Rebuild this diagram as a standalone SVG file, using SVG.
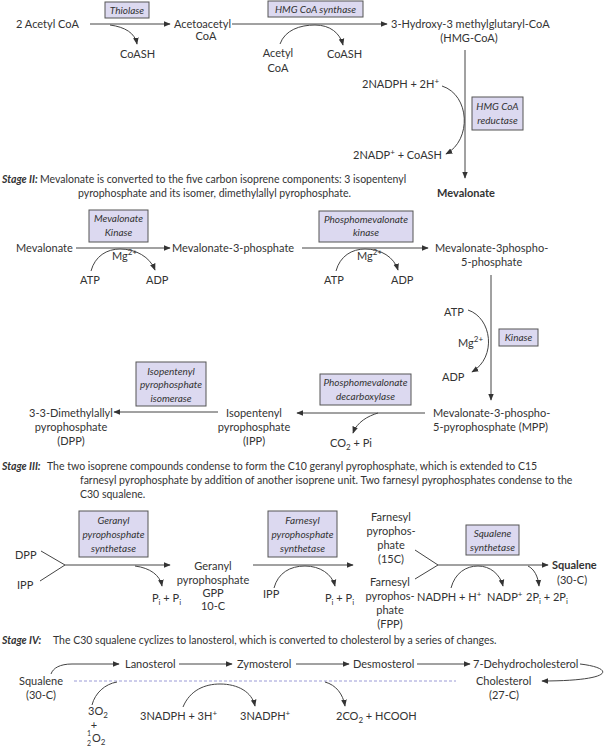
<svg xmlns="http://www.w3.org/2000/svg" width="611" height="750" viewBox="0 0 611 750">
<defs>
<marker id="ah" viewBox="0 0 10 10" refX="9" refY="5" markerWidth="7" markerHeight="7" orient="auto" markerUnits="userSpaceOnUse"><path d="M0,1 L10,5 L0,9 z" fill="#333"/></marker>
</defs>
<style>
text{font-family:Lato,"Liberation Sans",sans-serif;font-size:11px;fill:#333}
.c{text-anchor:middle}
.e{font-style:italic;font-size:10px;text-anchor:middle}
.b{font-weight:bold}
.st{font-weight:bold;font-style:italic;font-size:10.5px}
.p{font-size:10.5px}
.box{fill:#dcd9f0;stroke:#555;stroke-width:1}
.ln{fill:none;stroke:#444;stroke-width:1}
.ar{fill:none;stroke:#444;stroke-width:1;marker-end:url(#ah)}
.sm{font-size:8px}
.xs{font-size:7px}
</style>
<rect width="611" height="750" fill="#fff"/>

<g id="connectors">
<path class="ar" d="M90,24 H170"/>
<path class="ar" d="M110,25 C125,27 135,33 137,44"/>
<path class="ar" d="M232,24 H387"/>
<path class="ar" d="M280,44 C285,30 300,25 315,25 C330,25 340,33 343,45"/>
<path class="ar" d="M465,50 V178"/>
<path class="ar" d="M442,86 C470,95 472,140 446,154"/>

<path class="ar" d="M76,248 H170"/>
<path class="ar" d="M91,271 C95,256 107,249 120,249 C136,249 150,257 155,270"/>
<path class="ar" d="M302,248 H428"/>
<path class="ar" d="M336,271 C340,256 352,249 365,249 C381,249 394,257 398,270"/>
<path class="ar" d="M491,275 V400"/>
<path class="ar" d="M468,310 C492,318 497,357 472,372"/>
<path class="ar" d="M425,413 H297"/>
<path class="ar" d="M378,413 C368,416 357,422 353,433"/>
<path class="ar" d="M218,412 H114"/>

<path class="ln" d="M41,551 L65,565 M40,581 L65,565"/>
<path class="ar" d="M65,565 H170"/>
<path class="ar" d="M135,566 C150,568 160,575 162,586"/>
<path class="ar" d="M253,565 H353"/>
<path class="ar" d="M274,588 C278,573 290,566 305,566 C320,566 332,574 335,586"/>
<path class="ln" d="M415,550 L438,565 M415,579 L438,565"/>
<path class="ar" d="M438,565 H548"/>
<path class="ar" d="M451,588 C455,573 466,566 478,566 C490,566 500,574 503,586"/>
<path class="ar" d="M528,566 C534,569 538,576 539,586"/>

<path class="ar" d="M51,674 C53,668 60,664 72,664 H119"/>
<path class="ar" d="M179,664 H232"/>
<path class="ar" d="M296,664 H349"/>
<path class="ar" d="M417,664 H470"/>
<path class="ar" d="M580,664 C615,668 615,681 542,681"/>
<path d="M74,681 H456" fill="none" stroke="#9b9bd6" stroke-width="1" stroke-dasharray="3,2"/>
<path class="ln" d="M92,705 C95,693 105,684 117,682"/>
<path class="ar" d="M183,707 C190,690 205,684 220,684 C238,684 252,692 255,706"/>
<path class="ar" d="M325,682 C336,685 343,694 345,706"/>
</g>

<!-- Stage I -->
<g id="acetylcoa"><text x="16" y="28">2 Acetyl CoA</text></g>
<g id="thiolase"><rect class="box" x="105" y="2" width="44" height="16"/><text class="e" x="127" y="14">Thiolase</text></g>
<g id="coash1"><text x="120" y="58">CoASH</text></g>
<g id="acetoacetyl"><text x="174" y="28">Acetoacetyl</text><text class="c" x="206" y="40">CoA</text></g>
<g id="hmgsynthase"><rect class="box" x="268" y="1" width="95" height="16"/><text class="e" x="315.5" y="13">HMG CoA synthase</text></g>
<g id="acetylcoa2"><text class="c" x="278" y="57">Acetyl</text><text class="c" x="278" y="72">CoA</text></g>
<g id="coash2"><text x="327" y="58">CoASH</text></g>
<g id="hmgcoa"><text x="391" y="28">3-Hydroxy-3 methylglutaryl-CoA</text><text class="c" x="469" y="42">(HMG-CoA)</text></g>
<g id="nadph1"><text x="362" y="88">2NADPH + 2H<tspan class="sm" dy="-4">+</tspan></text></g>
<g id="nadp1"><text x="353" y="159">2NADP<tspan class="sm" dy="-4">+</tspan><tspan dy="4"> + CoASH</tspan></text></g>
<g id="hmgreductase"><rect class="box" x="472" y="97" width="51" height="33"/><text class="e" x="497.5" y="110">HMG CoA</text><text class="e" x="497.5" y="124">reductase</text></g>
<g id="mevalonate1"><text class="b c" x="466" y="197">Mevalonate</text></g>

<!-- Stage II -->
<g id="stage2"><text class="st" x="2" y="183">Stage II:</text><text class="p" x="40" y="183">Mevalonate is converted to the five carbon isoprene components: 3 isopentenyl</text><text class="p" x="78" y="197">pyrophosphate and its isomer, dimethylallyl pyrophosphate.</text></g>
<g id="mevalonate2"><text x="16" y="252">Mevalonate</text></g>
<g id="mevkinase"><rect class="box" x="89" y="210" width="59" height="32"/><text class="e" x="118.5" y="222">Mevalonate</text><text class="e" x="118.5" y="236">Kinase</text></g>
<g id="cof1"><text x="112" y="260">Mg<tspan class="sm" dy="-5">2+</tspan></text><text x="80" y="284">ATP</text><text x="146" y="284">ADP</text></g>
<g id="mev3p"><text x="172" y="252">Mevalonate-3-phosphate</text></g>
<g id="pmkinase"><rect class="box" x="319" y="211" width="94" height="31"/><text class="e" x="366" y="223">Phosphomevalonate</text><text class="e" x="366" y="236">kinase</text></g>
<g id="cof2"><text x="357" y="260">Mg<tspan class="sm" dy="-5">2+</tspan></text><text x="324" y="284">ATP</text><text x="391" y="284">ADP</text></g>
<g id="mev35pp"><text x="435" y="252">Mevalonate-3phospho-</text><text x="461" y="266">5-phosphate</text></g>
<g id="cof3"><text x="444" y="316">ATP</text><text x="458" y="347">Mg<tspan class="sm" dy="-5">2+</tspan></text><text x="442" y="381">ADP</text></g>
<g id="kinase"><rect class="box" x="499" y="329" width="39" height="17"/><text class="e" x="518.5" y="341">Kinase</text></g>
<g id="mpp"><text x="433" y="417">Mevalonate-3-phospho-</text><text x="433" y="431">5-pyrophosphate (MPP)</text></g>
<g id="pmdecarb"><rect class="box" x="320" y="374" width="91" height="31"/><text class="e" x="365.5" y="386">Phosphomevalonate</text><text class="e" x="365.5" y="400">decarboxylase</text></g>
<g id="co2pi"><text x="330" y="447">CO<tspan class="sm" dy="3">2</tspan><tspan dy="-3"> + Pi</tspan></text></g>
<g id="ipp"><text class="c" x="254" y="417">Isopentenyl</text><text class="c" x="254" y="431">pyrophosphate</text><text class="c" x="254" y="445">(IPP)</text></g>
<g id="isomerase"><rect class="box" x="136" y="362" width="70" height="44"/><text class="e" x="171" y="375">Isopentenyl</text><text class="e" x="171" y="388">pyrophosphate</text><text class="e" x="171" y="402">isomerase</text></g>
<g id="dpp"><text class="c" x="71" y="417">3-3-Dimethylallyl</text><text class="c" x="71" y="431">pyrophosphate</text><text class="c" x="71" y="445">(DPP)</text></g>

<!-- Stage III -->
<g id="stage3"><text class="st" x="2" y="470">Stage III:</text><text class="p" x="47" y="470">The two isoprene compounds condense to form the C10 geranyl pyrophosphate, which is extended to C15</text><text class="p" x="80" y="484">farnesyl pyrophosphate by addition of another isoprene unit. Two farnesyl pyrophosphates condense to the</text><text class="p" x="80" y="498">C30 squalene.</text></g>
<g id="dpp2"><text x="15" y="559">DPP</text></g>
<g id="ipp2"><text x="17" y="589">IPP</text></g>
<g id="gppsynth"><rect class="box" x="79" y="511" width="69" height="46"/><text class="e" x="113.5" y="524">Geranyl</text><text class="e" x="113.5" y="538">pyrophosphate</text><text class="e" x="113.5" y="552">synthetase</text></g>
<g id="pipi1"><text x="152" y="602">P<tspan class="sm" dy="3">i</tspan><tspan dy="-3"> + P</tspan><tspan class="sm" dy="3">i</tspan></text></g>
<g id="gpp"><text class="c" x="213" y="570">Geranyl</text><text class="c" x="213" y="584">pyrophosphate</text><text class="c" x="213" y="597">GPP</text><text class="c" x="213" y="610">10-C</text></g>
<g id="fppsynth"><rect class="box" x="268" y="511" width="69" height="46"/><text class="e" x="302.5" y="524">Farnesyl</text><text class="e" x="302.5" y="538">pyrophosphate</text><text class="e" x="302.5" y="552">synthetase</text></g>
<g id="ipp3"><text x="263" y="598">IPP</text></g>
<g id="pipi2"><text x="325" y="602">P<tspan class="sm" dy="3">i</tspan><tspan dy="-3"> + P</tspan><tspan class="sm" dy="3">i</tspan></text></g>
<g id="fpp1"><text class="c" x="391" y="521">Farnesyl</text><text class="c" x="391" y="535">pyrophos-</text><text class="c" x="391" y="549">phate</text><text class="c" x="391" y="563">(15C)</text></g>
<g id="fpp2"><text class="c" x="390" y="586">Farnesyl</text><text class="c" x="390" y="600">pyrophos-</text><text class="c" x="390" y="614">phate</text><text class="c" x="390" y="628">(FPP)</text></g>
<g id="sqsynth"><rect class="box" x="466" y="525" width="53" height="30"/><text class="e" x="492.5" y="537">Squalene</text><text class="e" x="492.5" y="551">synthetase</text></g>
<g id="nadph2"><text x="417" y="601">NADPH + H<tspan class="sm" dy="-4">+</tspan></text></g>
<g id="nadp2"><text x="487" y="601">NADP<tspan class="sm" dy="-4">+</tspan></text></g>
<g id="pipi3"><text x="526" y="601">2P<tspan class="sm" dy="3">i</tspan><tspan dy="-3"> + 2P</tspan><tspan class="sm" dy="3">i</tspan></text></g>
<g id="squalene1"><text class="b" x="552" y="569">Squalene</text><text x="557" y="584">(30-C)</text></g>

<!-- Stage IV -->
<g id="stage4"><text class="st" x="2" y="644">Stage IV:</text><text class="p" x="53" y="644">The C30 squalene  cyclizes to lanosterol, which is converted to cholesterol by a series of changes.</text></g>
<g id="squalene2"><text class="c" x="41" y="685">Squalene</text><text class="c" x="41" y="699">(30-C)</text></g>
<g id="lanosterol"><text x="125" y="668">Lanosterol</text></g>
<g id="zymosterol"><text x="237" y="668">Zymosterol</text></g>
<g id="desmosterol"><text x="353" y="668">Desmosterol</text></g>
<g id="dhc"><text x="473" y="668">7-Dehydrocholesterol</text></g>
<g id="cholesterol"><text x="476" y="685">Cholesterol</text><text class="c" x="504" y="699">(27-C)</text></g>
<g id="o2"><text x="88" y="715">3O<tspan class="sm" dy="3">2</tspan></text><text class="c" x="94" y="729" font-size="9">+</text><text class="xs" x="87" y="736">1</text><text class="xs" x="87" y="746">2</text><text x="92" y="742">O<tspan class="sm" dy="3">2</tspan></text></g>
<g id="nadph3"><text x="140" y="720">3NADPH + 3H<tspan class="sm" dy="-4">+</tspan></text></g>
<g id="nadph4"><text x="240" y="720">3NADPH<tspan class="sm" dy="-4">+</tspan></text></g>
<g id="co2hcooh"><text x="336" y="720">2CO<tspan class="sm" dy="3">2</tspan><tspan dy="-3"> + HCOOH</tspan></text></g>
</svg>
